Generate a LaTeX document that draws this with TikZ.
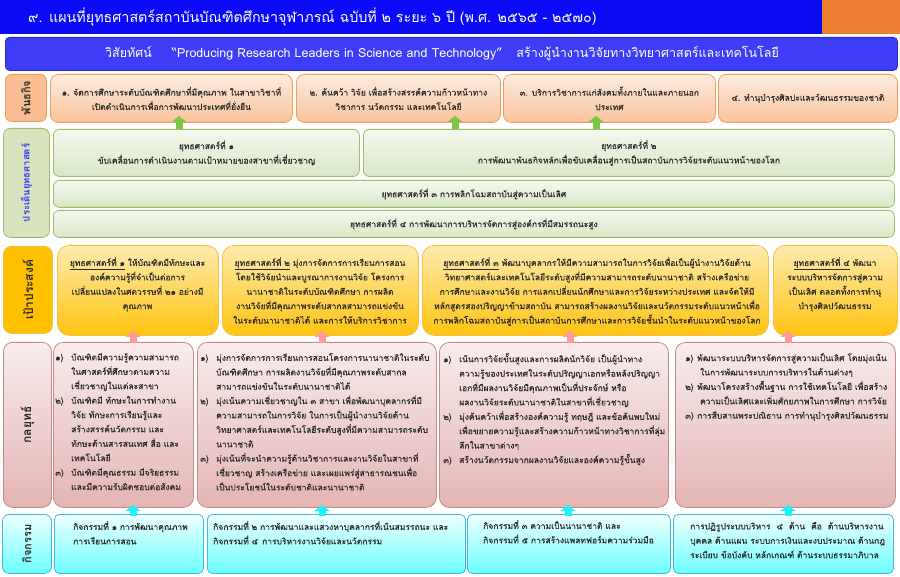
\documentclass[tikz,border=0pt]{standalone}
\usepackage{fontspec}
\setmainfont[Script=Thai]{Loma}
\newfontfamily\thaisb[Script=Thai, FakeBold=0.35]{Loma}
\usetikzlibrary{arrows.meta}
\definecolor{titleblue}{HTML}{0A0AF5}
\definecolor{titleorange}{HTML}{ED7D31}
\definecolor{visfill}{HTML}{3D3DF7}
\definecolor{visdraw}{HTML}{2A2AD0}
\definecolor{misdraw}{HTML}{F59D5E}
\definecolor{mistop}{HTML}{FDEBDD}
\definecolor{misbot}{HTML}{F9C49C}
\definecolor{mislab}{HTML}{F9BE93}
\definecolor{strdraw}{HTML}{9EBD6A}
\definecolor{strtop}{HTML}{F4F8EE}
\definecolor{strbot}{HTML}{D9E7C5}
\definecolor{strlab}{HTML}{D8E4BE}
\definecolor{goaldraw}{HTML}{F7BE45}
\definecolor{goaltop}{HTML}{FFEBB0}
\definecolor{goalbot}{HTML}{FFC30F}
\definecolor{goallab}{HTML}{FFC000}
\definecolor{tacdraw}{HTML}{C8898A}
\definecolor{tactop}{HTML}{F9ECEC}
\definecolor{tacbot}{HTML}{E4B4B4}
\definecolor{taclab}{HTML}{F2DCDB}
\definecolor{actdraw}{HTML}{3FB8E8}
\definecolor{acttop}{HTML}{EFFFFF}
\definecolor{actbot}{HTML}{6BFFFF}
\definecolor{txt}{HTML}{2B2B2B}
\definecolor{garr}{HTML}{7CC644}
\definecolor{parr}{HTML}{FF9A9A}
\definecolor{carr}{HTML}{22F0FF}
\definecolor{labblue}{HTML}{3333FF}
\newcommand\nm[2][16pt]{\makebox[#1][l]{#2}}
\newcommand\hi[1][16pt]{\hspace*{#1}}
\tikzset{
  box/.style={draw, line width=0.8pt, inner sep=0pt, anchor=north west},
  misbox/.style={box, draw=misdraw, top color=mistop, bottom color=misbot, rounded corners=8pt},
  strbox/.style={box, draw=strdraw, top color=strtop, bottom color=strbot, rounded corners=6pt},
  goalbox/.style={box, draw=goaldraw, top color=goaltop, bottom color=goalbot, rounded corners=12pt},
  tacbox/.style={box, draw=tacdraw, top color=tactop, bottom color=tacbot, rounded corners=10pt},
  actbox/.style={box, draw=actdraw, top color=acttop, bottom color=actbot, rounded corners=5pt},
  lab/.style={rotate=90, inner sep=0pt, text=txt, font=\fontsize{11}{13}\selectfont\bfseries},
  tx/.style={inner sep=0pt, text=txt, font=\thaisb\fontsize{8.5}{14.4}\selectfont},
  uparr/.style={line width=7pt, -{Triangle[width=15pt,length=6pt]}}
}
\begin{document}
\begin{tikzpicture}[x=1pt,y=-1pt]
\useasboundingbox (0,0) rectangle (900,577);
\fill[white] (0,0) rectangle (900,577);
% title
\node[box, draw=none, fill=titleblue, minimum width=822pt, minimum height=34pt] (tbar) at (0,0) {};
\node[box, draw=none, fill=titleorange, minimum width=78pt, minimum height=34pt] (tor) at (822,0) {};
\node[anchor=west, inner sep=0pt, text=white, font=\fontsize{14.3}{16}\selectfont] (ttl) at (28,17) {๙. แผนที่ยุทธศาสตร์สถาบันบัณฑิตศึกษาจุฬาภรณ์ ฉบับที่ ๒ ระยะ ๖ ปี (พ.ศ. ๒๕๖๕ - ๒๕๗๐)};
% vision
\node[box, draw=visdraw, fill=visfill, rounded corners=4pt, minimum width=892pt, minimum height=33pt] (vis) at (5,37) {};
\node[inner sep=0pt, text=white, font=\fontsize{12.5}{14}\selectfont] (vist) at (442,53.5) {วิสัยทัศน์\hspace{20pt}“Producing Research Leaders in Science and Technology”\hspace{14pt}สร้างผู้นำงานวิจัยทางวิทยาศาสตร์และเทคโนโลยี};
% mission row
\node[box, draw=misdraw, fill=mislab, rounded corners=6pt, minimum width=41pt, minimum height=47pt] (ml) at (5,74) {};
\node[lab] at (ml.center) {พันธกิจ};
\node[misbox, minimum width=242pt, minimum height=48pt] (m1) at (50,74) {};
\node[misbox, minimum width=204pt, minimum height=48pt] (m2) at (296,74) {};
\node[misbox, minimum width=212pt, minimum height=48pt] (m3) at (503,74) {};
\node[misbox, minimum width=179pt, minimum height=48pt] (m4) at (718,74) {};
\node[tx, align=center] at (m1.center) {๑. จัดการศึกษาระดับบัณฑิตศึกษาที่มีคุณภาพ ในสาขาวิชาที่\\เปิดดำเนินการเพื่อการพัฒนาประเทศที่ยั่งยืน};
\node[tx, align=center] at (m2.center) {๒. ค้นคว้า วิจัย เพื่อสร้างสรรค์ความก้าวหน้าทาง\\วิชาการ นวัตกรรม และเทคโนโลยี};
\node[tx, align=center] at (m3.center) {๓. บริการวิชาการแก่สังคมทั้งภายในและภายนอก\\ประเทศ};
\node[tx, align=center] at (m4.center) {๔. ทำนุบำรุงศิลปะและวัฒนธรรมของชาติ};
% strategy row
\node[box, draw=strdraw, fill=strlab, rounded corners=7pt, minimum width=46pt, minimum height=109pt] (sl) at (3,128) {};
\node[lab, text=labblue, font=\fontsize{9.5}{11}\selectfont\bfseries] at (sl.center) {ประเด็นยุทธศาสตร์};
\node[strbox, minimum width=306pt, minimum height=47pt] (s1) at (53,129) {};
\node[strbox, minimum width=531pt, minimum height=47pt] (s2) at (363,129) {};
\node[strbox, minimum width=841pt, minimum height=27pt] (s3) at (53,180) {};
\node[strbox, minimum width=841pt, minimum height=27pt] (s4) at (53,210) {};
\node[tx, align=center] at (s1.center) {ยุทธศาสตร์ที่ ๑\\ขับเคลื่อนการดำเนินงานตามเป้าหมายของสาขาที่เชี่ยวชาญ};
\node[tx, align=center] at (s2.center) {ยุทธศาสตร์ที่ ๒\\การพัฒนาพันธกิจหลักเพื่อขับเคลื่อนสู่การเป็นสถาบันการวิจัยระดับแนวหน้าของโลก};
\node[tx] at (s3.center) {ยุทธศาสตร์ที่ ๓ การพลิกโฉมสถาบันสู่ความเป็นเลิศ};
\node[tx] at (s4.center) {ยุทธศาสตร์ที่ ๔ การพัฒนาการบริหารจัดการสู่องค์กรที่มีสมรรถนะสูง};
% goal row
\node[box, draw=goaldraw, fill=goallab, rounded corners=8pt, minimum width=49pt, minimum height=87pt] (gl) at (3,246) {};
\node[lab, font=\fontsize{12}{14}\selectfont\bfseries] at (gl.center) {เป้าประสงค์};
\node[goalbox, minimum width=161pt, minimum height=90pt] (g1) at (57,245) {};
\node[goalbox, minimum width=196pt, minimum height=90pt] (g2) at (222,245) {};
\node[goalbox, minimum width=346pt, minimum height=90pt] (g3) at (422,245) {};
\node[goalbox, minimum width=124pt, minimum height=90pt] (g4) at (773,245) {};
\node[tx, align=center, anchor=north] at (137.5,257) {\underline{ยุทธศาสตร์ที่ ๑} ให้บัณฑิตมีทักษะและ\\องค์ความรู้ที่จำเป็นต่อการ\\เปลี่ยนแปลงในศตวรรษที่ ๒๑ อย่างมี\\คุณภาพ};
\node[tx, align=center, anchor=north] at (320,257) {\underline{ยุทธศาสตร์ที่ ๒} มุ่งการจัดการการเรียนการสอน\\โดยใช้วิจัยนำและบูรณาการงานวิจัย โครงการ\\นานาชาติในระดับบัณฑิตศึกษา การผลิต\\งานวิจัยที่มีคุณภาพระดับสากลสามารถแข่งขัน\\ในระดับนานาชาติได้ และการให้บริการวิชาการ};
\node[tx, align=center, anchor=north] at (597,257) {\underline{ยุทธศาสตร์ที่ ๓} พัฒนาบุคลากรให้มีความสามารถในการวิจัยเพื่อเป็นผู้นำงานวิจัยด้าน\\วิทยาศาสตร์และเทคโนโลยีระดับสูงที่มีความสามารถระดับนานาชาติ สร้างเครือข่าย\\การศึกษาและงานวิจัย การแลกเปลี่ยนนักศึกษาและการวิจัยระหว่างประเทศ และจัดให้มี\\หลักสูตรสองปริญญาข้ามสถาบัน สามารถสร้างผลงานวิจัยและนวัตกรรมระดับแนวหน้าเพื่อ\\การพลิกโฉมสถาบันสู่การเป็นสถาบันการศึกษาและการวิจัยชั้นนำในระดับแนวหน้าของโลก};
\node[tx, align=center, anchor=north] at (835,257) {\underline{ยุทธศาสตร์ที่ ๔} พัฒนา\\ระบบบริหารจัดการสู่ความ\\เป็นเลิศ ตลอดทั้งการทำนุ\\บำรุงศิลปวัฒนธรรม};
% tactics row
\node[box, draw=tacdraw, top color=tactop, bottom color=tacbot, rounded corners=9pt, minimum width=48pt, minimum height=165pt] (tl) at (3,342) {};
\node[lab, font=\fontsize{12}{14}\selectfont\bfseries] at (tl.center) {กลยุทธ์};
\node[tacbox, minimum width=140pt, minimum height=165pt] (t1) at (53,342) {};
\node[tacbox, minimum width=239pt, minimum height=165pt] (t2) at (197,342) {};
\node[tacbox, minimum width=229pt, minimum height=165pt] (t3) at (439,342) {};
\node[tacbox, minimum width=220pt, minimum height=165pt] (t4) at (675,342) {};
\node[tx, align=left, anchor=north west] at (55,353) {\nm{๑)}บัณฑิตมีความรู้ความสามารถ\\\hi ในศาสตร์ที่ศึกษาตามความ\\\hi เชี่ยวชาญในแต่ละสาขา\\\nm{๒)}บัณฑิตมี ทักษะในการทำงาน\\\hi วิจัย ทักษะการเรียนรู้และ\\\hi สร้างสรรค์นวัตกรรม และ\\\hi ทักษะด้านสารสนเทศ สื่อ และ\\\hi เทคโนโลยี\\\nm{๓)}บัณฑิตมีคุณธรรม มีจริยธรรม\\\hi และมีความรับผิดชอบต่อสังคม};
\node[tx, align=left, anchor=north west] at (200,353) {\nm{๑)}มุ่งการจัดการการเรียนการสอนโครงการนานาชาติในระดับ\\\hi บัณฑิตศึกษา การผลิตงานวิจัยที่มีคุณภาพระดับสากล\\\hi สามารถแข่งขันในระดับนานาชาติได้\\\nm{๒)}มุ่งเน้นความเชี่ยวชาญใน ๓ สาขา เพื่อพัฒนาบุคลากรที่มี\\\hi ความสามารถในการวิจัย ในการเป็นผู้นำงานวิจัยด้าน\\\hi วิทยาศาสตร์และเทคโนโลยีระดับสูงที่มีความสามารถระดับ\\\hi นานาชาติ\\\nm{๓)}มุ่งเน้นที่จะนำความรู้ด้านวิชาการและงานวิจัยในสาขาที่\\\hi เชี่ยวชาญ สร้างเครือข่าย และเผยแพร่สู่สาธารณชนเพื่อ\\\hi เป็นประโยชน์ในระดับชาติและนานาชาติ};
\node[tx, align=left, anchor=north west] at (443,353) {\nm{๑)}เน้นการวิจัยขั้นสูงและการผลิตนักวิจัย เป็นผู้นำทาง\\\hi ความรู้ของประเทศในระดับปริญญาเอกหรือหลังปริญญา\\\hi เอกที่มีผลงานวิจัยมีคุณภาพเป็นที่ประจักษ์ หรือ\\\hi ผลงานวิจัยระดับนานาชาติในสาขาที่เชี่ยวชาญ\\\nm{๒)}มุ่งค้นคว้าเพื่อสร้างองค์ความรู้ ทฤษฎี และข้อค้นพบใหม่\\\hi เพื่อขยายความรู้และสร้างความก้าวหน้าทางวิชาการที่ลุ่ม\\\hi ลึกในสาขาต่างๆ\\\nm{๓)}สร้างนวัตกรรมจากผลงานวิจัยและองค์ความรู้ขั้นสูง};
\node[tx, align=left, anchor=north west] at (685,353) {\nm[12pt]{๑)}พัฒนาระบบบริหารจัดการสู่ความเป็นเลิศ โดยมุ่งเน้น\\\hi[12pt] ในการพัฒนาระบบการบริหารในด้านต่างๆ\\\nm[12pt]{๒)}พัฒนาโครงสร้างพื้นฐาน การใช้เทคโนโลยี เพื่อสร้าง\\\hi[12pt] ความเป็นเลิศและเพิ่มศักยภาพในการศึกษา การวิจัย\\\nm[12pt]{๓)}การสืบสานพระปณิธาน การทำนุบำรุงศิลปวัฒนธรรม};
% activity row
\node[actbox, minimum width=49pt, minimum height=59pt, rounded corners=7pt] (al) at (2,514) {};
\node[lab] at (al.center) {กิจกรรม};
\node[actbox, minimum width=149pt, minimum height=59pt] (a1) at (54,514) {};
\node[actbox, minimum width=258pt, minimum height=59pt] (a2) at (207,514) {};
\node[actbox, minimum width=203pt, minimum height=59pt] (a3) at (467,514) {};
\node[actbox, minimum width=220pt, minimum height=59pt] (a4) at (673,514) {};
\node[tx, align=left, anchor=north west] at (73,521) {กิจกรรมที่ ๑ การพัฒนาคุณภาพ\\การเรียนการสอน};
\node[tx, align=left, anchor=north west] at (213,521) {กิจกรรมที่ ๒ การพัฒนาและแสวงหาบุคลากรที่เน้นสมรรถนะ และ\\กิจกรรมที่ ๔\hspace{4pt}การบริหารงานวิจัยและนวัตกรรม};
\node[tx, align=left, anchor=north west] at (483,520) {กิจกรรมที่ ๓ ความเป็นนานาชาติ และ\\กิจกรรมที่ ๕ การสร้างแพลทฟอร์มความร่วมมือ};
\node[tx, align=left, anchor=north west] at (690,522) {การปฏิรูประบบบริหาร\hspace{6pt}๔\hspace{6pt}ด้าน\hspace{6pt}คือ\hspace{6pt}ด้านบริหารงาน\\บุคคล ด้านแผน ระบบการเงินและงบประมาณ ด้านกฎ\\ระเบียบ ข้อบังคับ หลักเกณฑ์ ด้านระบบธรรมาภิบาล};
% arrows
\foreach \x in {179,455,596} \draw[uparr, draw=garr, fill=garr] (\x,129) -- (\x,116);
\foreach \x in {133,322,570,788} \draw[uparr, draw=parr, fill=parr] (\x,343) -- (\x,331);
\foreach \x in {133,322,568,788} \draw[uparr, draw=carr, fill=carr] (\x,516) -- (\x,505);
\end{tikzpicture}
\end{document}
